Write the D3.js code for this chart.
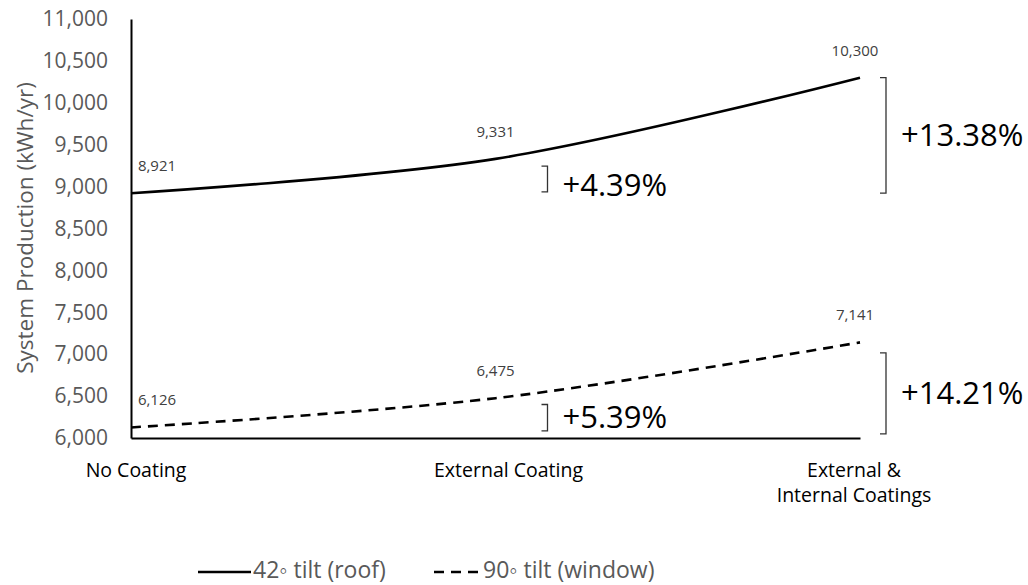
<!DOCTYPE html>
<html>
<head>
<meta charset="utf-8">
<script src="https://cdn.jsdelivr.net/npm/d3@7"></script>
<style>
  html, body { margin: 0; padding: 0; background: #fff; }
  svg { display: block; font-family: "Open Sans", "Noto Sans", sans-serif; }
</style>
</head>
<body>
<svg id="chart" width="1028" height="585"></svg>
<script>
// ---- data ----
const categories = ["No Coating", "External Coating", "External &\nInternal Coatings"];
const roofValues = [8921, 9331, 10300];     // 42° tilt (roof)
const windowValues = [6126, 6475, 7141];    // 90° tilt (window)
const yTicks = [6000, 6500, 7000, 7500, 8000, 8500, 9000, 9500, 10000, 10500, 11000];
const seriesNames = ["42\u25E6 tilt (roof)", "90\u25E6 tilt (window)"];
// bracket annotations: [category index, low value, high value, label]
const bracketCats = [1, 2, 1, 2];
const bracketLows = [8936, 8921, 6085, 6050];
const bracketHighs = [9245, 10300, 6400, 7015];
const bracketLabels = ["+4.39%", "+13.38%", "+5.39%", "+14.21%"];

// ---- layout ----
const svg = d3.select("#chart");
const x = d3.scalePoint().domain(categories).range([131, 860]);
const y = d3.scaleLinear().domain([6000, 11000]).range([438, 19]);
const grey = "#595959";

// y axis
const yAxis = svg.append("g")
  .attr("transform", "translate(131,0)")
  .call(d3.axisLeft(y).tickValues(yTicks).tickSize(0).tickSizeOuter(0).tickPadding(23)
        .tickFormat(d3.format(",")));
yAxis.select(".domain").attr("stroke", "#000").attr("stroke-width", 2);
yAxis.selectAll("text").attr("font-size", 21).attr("fill", grey)
  .attr("font-family", "Open Sans");

// x axis
const xAxis = svg.append("g")
  .attr("transform", "translate(0,438)")
  .call(d3.axisBottom(x).tickSize(0).tickSizeOuter(0).tickFormat(""));
xAxis.select(".domain").attr("stroke", "#000").attr("stroke-width", 2);

// category labels
const labelNudge = [5, 13, -6];
categories.forEach((c, i) => {
  const t = svg.append("text")
    .attr("x", x(c) + labelNudge[i])
    .attr("y", 477)
    .attr("text-anchor", "middle")
    .attr("font-size", 19.5)
    .attr("fill", "#000");
  c.split("\n").forEach((line, j) => {
    t.append("tspan").attr("x", x(c) + labelNudge[i]).attr("dy", j === 0 ? 0 : 25).text(line);
  });
});

// axis title
svg.append("text")
  .attr("transform", "translate(33,228) rotate(-90)")
  .attr("text-anchor", "middle")
  .attr("font-size", 22.5)
  .attr("fill", grey)
  .text("System Production (kWh/yr)");

// lines
const line = d3.line()
  .x((d, i) => x(categories[i]))
  .y(d => y(d))
  .curve(d3.curveCatmullRom.alpha(0.5));

svg.append("path").datum(roofValues)
  .attr("d", line).attr("fill", "none")
  .attr("stroke", "#000").attr("stroke-width", 2.6);

svg.append("path").datum(windowValues)
  .attr("d", line).attr("fill", "none")
  .attr("stroke", "#000").attr("stroke-width", 2.6)
  .attr("stroke-dasharray", "10,7");

// data labels
const dlNudge = [26, 0, -5];
[roofValues, windowValues].forEach(vals => {
  vals.forEach((v, i) => {
    svg.append("text")
      .attr("x", x(categories[i]) + dlNudge[i])
      .attr("y", y(v) - 22)
      .attr("text-anchor", "middle")
      .attr("font-size", 15)
      .attr("fill", "#404040")
      .text(d3.format(",")(v));
  });
});

// brackets
const bracketOffset = [52, 26, 52, 26];
const bracketTextShift = [-7, null, -14, null];
bracketLabels.forEach((lab, k) => {
  const bx = x(categories[bracketCats[k]]) + bracketOffset[k];
  const y0 = y(bracketHighs[k]), y1 = y(bracketLows[k]);
  svg.append("path")
    .attr("d", `M${bx - 6},${y0} H${bx} V${y1} H${bx - 6}`)
    .attr("fill", "none").attr("stroke", "#333").attr("stroke-width", 1.3);
  svg.append("text")
    .attr("x", bx + 15)
    .attr("y", bracketTextShift[k] !== null ? y1 + bracketTextShift[k] : (y0 + y1) / 2)
    .attr("dy", "0.35em")
    .attr("font-size", 31)
    .attr("fill", "#000")
    .text(lab);
});

// legend
const legend = svg.append("g").attr("transform", "translate(0,570)");
legend.append("line").attr("x1", 198).attr("x2", 251).attr("y1", 2).attr("y2", 2)
  .attr("stroke", "#000").attr("stroke-width", 2.6);
legend.append("text").attr("x", 253).attr("y", 0).attr("dy", "0.35em")
  .attr("font-size", 23).attr("fill", grey).text(seriesNames[0]);
legend.append("line").attr("x1", 434).attr("x2", 481).attr("y1", 2).attr("y2", 2)
  .attr("stroke", "#000").attr("stroke-width", 2.6).attr("stroke-dasharray", "10,7");
legend.append("text").attr("x", 483).attr("y", 0).attr("dy", "0.35em")
  .attr("font-size", 23).attr("fill", grey).text(seriesNames[1]);
</script>
</body>
</html>
